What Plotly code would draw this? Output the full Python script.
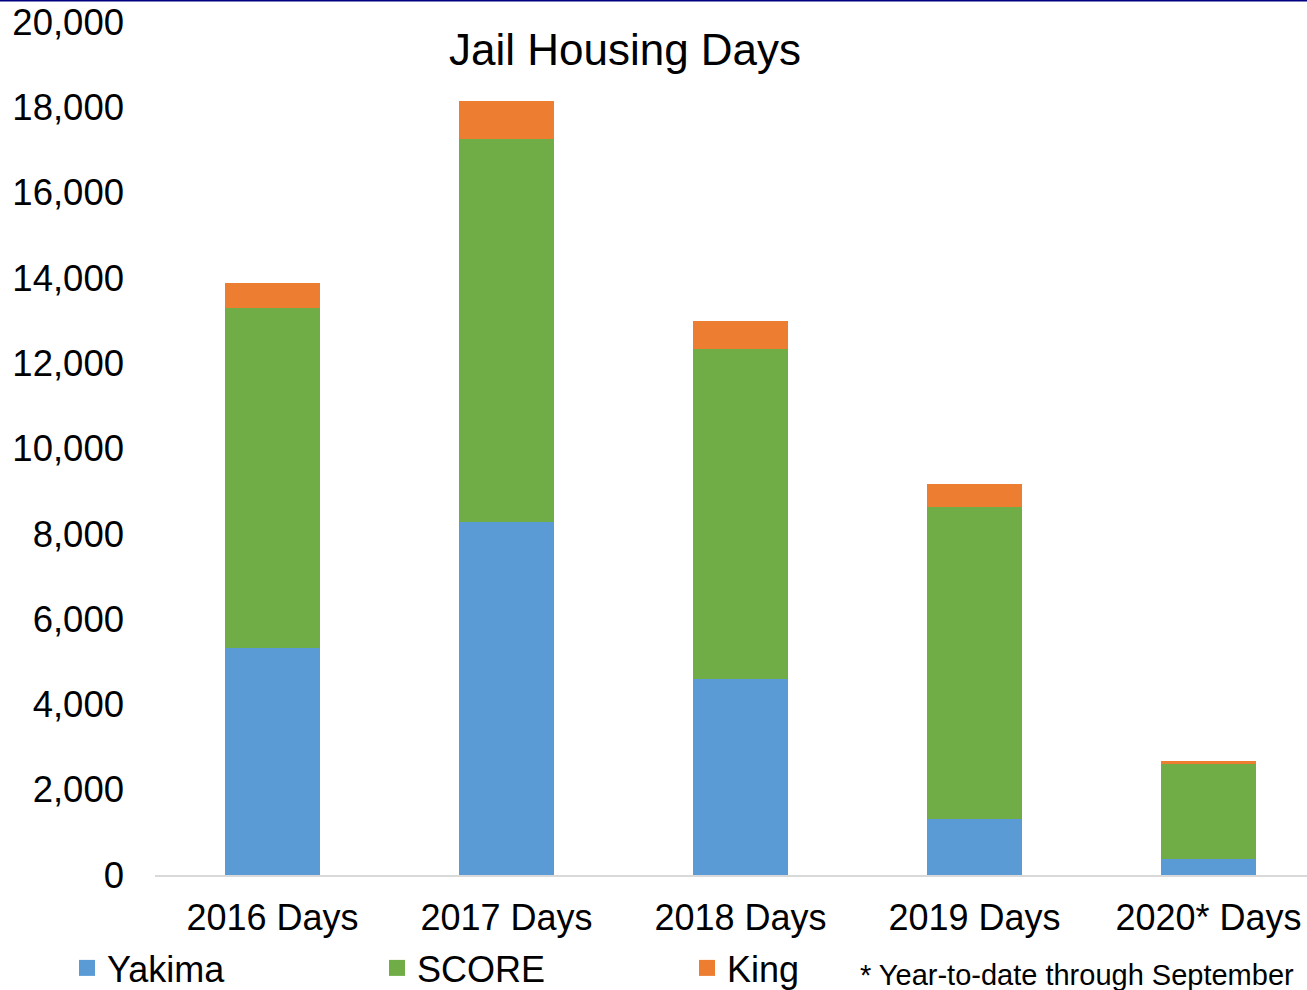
import plotly.graph_objects as go

categories = ["2016 Days", "2017 Days", "2018 Days", "2019 Days", "2020* Days"]
yakima = [5330, 8280, 4600, 1313, 375]
score = [7970, 8980, 7730, 7315, 2220]
king = [580, 890, 670, 533, 70]

series_names = ["Yakima", "SCORE", "King"]
series_values = [yakima, score, king]
colors = ["#5B9BD5", "#70AD47", "#ED7D31"]

W, H = 1307, 990
ML, MR, MT, MB = 155, 0, 22, 115
PW = W - ML - MR
PH = H - MT - MB

FONT = "Liberation Sans, Arial, sans-serif"

fig = go.Figure()
for name, vals, col in zip(series_names, series_values, colors):
    fig.add_trace(go.Bar(
        x=categories, y=vals, name=name, marker=dict(color=col, line=dict(width=0)),
        width=0.408, showlegend=False, legendgroup=name,
    ))
# legend entries with larger square swatches
for name, col in zip(series_names, colors):
    fig.add_trace(go.Scatter(
        x=[None], y=[None], mode="markers", name=name, legendgroup=name,
        marker=dict(symbol="square", size=20, color=col),
    ))

fig.update_layout(
    width=W, height=H,
    margin=dict(l=ML, r=MR, t=MT, b=MB, pad=0, autoexpand=False),
    barmode="stack",
    paper_bgcolor="white", plot_bgcolor="white",
    font=dict(family=FONT, color="#000000"),
    title=dict(text="Jail Housing Days", font=dict(size=44, family=FONT, color="#000000"),
               x=625 / W, xref="container", xanchor="center",
               y=1 - 50 / H, yref="container", yanchor="middle"),
    showlegend=True,
    legend=dict(orientation="h", x=(67 - ML) / PW, xanchor="left",
                y=(875 - 968) / PH, yanchor="middle",
                font=dict(size=36, family=FONT, color="#000000"),
                entrywidth=265, entrywidthmode="pixels", borderwidth=0,
                bgcolor="rgba(0,0,0,0)", traceorder="normal", itemclick=False),
    xaxis=dict(type="category", range=[-0.502, 4.421], showgrid=False, zeroline=False,
               showline=True, linecolor="#D9D9D9", linewidth=2, ticks="",
               tickfont=dict(size=36, family=FONT, color="#000000"),
               ticklabelstandoff=10, fixedrange=True),
    yaxis=dict(range=[0, 20000], tickvals=list(range(0, 20001, 2000)), tickformat=",d",
               showgrid=False, zeroline=False, showline=False, ticks="",
               tickfont=dict(size=36.5, family=FONT, color="#000000"),
               ticklabelstandoff=30, fixedrange=True),
    annotations=[dict(text="* Year-to-date through September", xref="paper", yref="paper",
                      x=(858 - ML) / PW, y=(875 - 975) / PH, xanchor="left", yanchor="middle",
                      showarrow=False, font=dict(size=29, family=FONT, color="#000000"))],
    shapes=[dict(type="line", xref="paper", yref="paper", x0=-ML / PW, x1=1,
                 y0=1 + (MT - 0.5) / PH, y1=1 + (MT - 0.5) / PH,
                 line=dict(color="#000080", width=2))],
)

fig.write_html("out.html", config={"displayModeBar": False},
               post_script="document.body.style.margin='0';")
